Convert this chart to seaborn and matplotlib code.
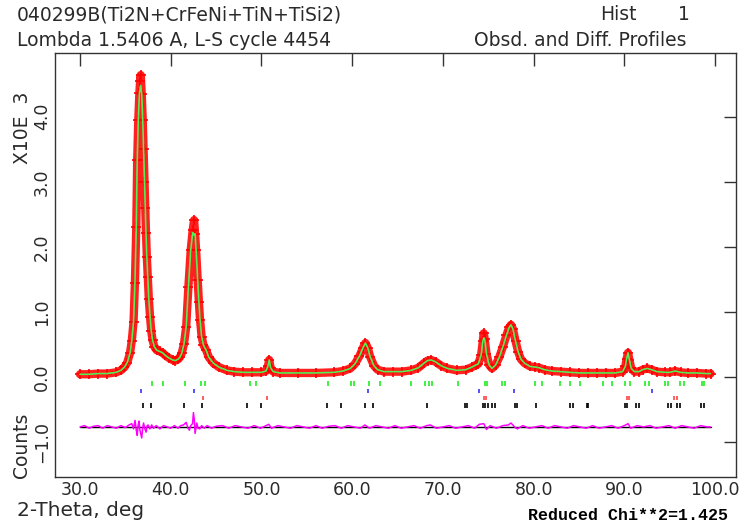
import numpy as np
import pandas as pd
import matplotlib
matplotlib.use('Agg')
import matplotlib.pyplot as plt
import seaborn as sns

# GSAS style powder pattern: observed (+), calculated (line), difference and reflection ticks
# intensities in units of 10^3 counts

obs_tth = [30.0, 31.0, 32.0, 33.0, 34.0, 34.5, 34.9, 35.2, 35.5, 35.7, 35.9, 36.05, 36.2, 36.3,
           36.42, 36.54, 36.62, 36.69, 36.8, 36.91, 37.0, 37.09, 37.18, 37.27, 37.36, 37.46,
           37.58, 37.72, 37.85, 38.0, 38.2, 38.45, 38.8, 39.1, 39.4, 39.8, 40.2, 40.5, 40.8,
           41.0, 41.2, 41.45, 41.7, 41.94, 42.2, 42.42, 42.57, 42.68, 42.79, 42.97, 43.1, 43.23,
           43.4, 43.6, 43.9, 44.2, 44.7, 45.3, 46.2, 47.0, 48.0, 49.0, 50.0, 50.5, 50.7, 50.85,
           51.0, 51.3, 52.0, 54.0, 56.0, 58.0, 59.0, 59.8, 60.3, 60.8, 61.2, 61.45, 61.7, 62.0,
           62.4, 62.8, 63.5, 64.5, 65.5, 66.5, 67.3, 67.9, 68.3, 68.7, 69.2, 69.8, 70.5, 71.5,
           72.5, 73.2, 73.6, 73.9, 74.2, 74.4, 74.5, 74.6, 74.8, 75.1, 75.4, 75.8, 76.2, 76.6,
           77.0, 77.3, 77.5, 77.7, 78.0, 78.3, 78.6, 79.0, 79.6, 80.2, 80.6, 81.2, 82.0, 83.0,
           84.0, 85.0, 86.0, 87.0, 88.0, 89.0, 89.8, 90.1, 90.25, 90.4, 90.55, 90.75, 91.1, 91.6,
           92.0, 92.5, 93.0, 93.6, 94.5, 95.0, 95.6, 96.2, 97.0, 98.0, 99.0, 99.5]
obs_cnt = [0.04, 0.04, 0.05, 0.05, 0.07, 0.10, 0.15, 0.22, 0.36, 0.55, 0.85, 1.45, 2.31, 3.33,
           3.95, 4.36, 4.55, 4.64, 4.35, 3.95, 3.50, 3.00, 2.60, 2.21, 1.85, 1.54,
           1.20, 0.92, 0.70, 0.56, 0.46, 0.41, 0.39, 0.37, 0.33, 0.29, 0.26, 0.25, 0.27,
           0.30, 0.36, 0.50, 0.77, 1.38, 1.95, 2.26, 2.41, 2.20, 1.95, 1.49, 1.15, 0.87,
           0.62, 0.49, 0.41, 0.30, 0.21, 0.15, 0.10, 0.08, 0.07, 0.07, 0.07, 0.09, 0.16, 0.26,
           0.14, 0.08, 0.06, 0.06, 0.06, 0.07, 0.09, 0.13, 0.20, 0.32, 0.45, 0.52, 0.45, 0.30,
           0.17, 0.11, 0.08, 0.08, 0.08, 0.10, 0.14, 0.21, 0.25, 0.26, 0.23, 0.17, 0.13, 0.10,
           0.11, 0.15, 0.18, 0.20, 0.33, 0.55, 0.67, 0.58, 0.35, 0.18, 0.13, 0.18, 0.30, 0.46,
           0.64, 0.76, 0.80, 0.74, 0.55, 0.38, 0.27, 0.21, 0.16, 0.15, 0.14, 0.11, 0.09, 0.08,
           0.07, 0.06, 0.06, 0.06, 0.06, 0.06, 0.08, 0.16, 0.28, 0.37, 0.26, 0.13, 0.08, 0.08,
           0.11, 0.13, 0.11, 0.08, 0.07, 0.07, 0.09, 0.07, 0.06, 0.06, 0.05, 0.05]
# calculated profile differs from observed only at the strongest peak tops
calc_tops = {36.62: 4.42, 36.69: 4.48, 42.42: 2.22, 42.57: 2.18, 74.5: 0.60}

diff_tth = [30.0, 30.5, 31.0, 31.5, 32.0, 32.5, 33.0, 33.5, 34.0, 34.5, 35.0, 35.4, 35.7, 35.9,
            36.06, 36.2, 36.3, 36.4, 36.5, 36.6, 36.8, 36.9, 37.0, 37.15, 37.28, 37.4, 37.5,
            37.7, 37.9, 38.1, 38.4, 38.8, 39.2, 39.6, 40.0, 40.4, 40.8, 41.1, 41.4, 41.7, 41.9,
            42.05, 42.2, 42.4, 42.5, 42.6, 42.68, 42.8, 42.87, 43.0, 43.2, 43.4, 43.7, 44.0,
            44.5, 45.0, 45.7, 46.4, 47.1, 47.8, 48.5, 49.2, 49.9, 50.5, 50.8, 51.1, 51.8, 52.5,
            53.2, 53.9, 54.6, 55.3, 56.0, 56.7, 57.4, 58.1, 58.8, 59.5, 60.2, 60.9, 61.4, 61.9,
            62.6, 63.3, 64.0, 64.7, 65.4, 66.1, 66.8, 67.5, 68.2, 68.6, 69.3, 70.0, 70.7, 71.4,
            72.1, 72.8, 73.5, 74.0, 74.5, 74.8, 75.2, 75.9, 76.6, 77.2, 77.5, 77.9, 78.2, 78.8,
            79.5, 80.2, 80.9, 81.6, 82.3, 83.0, 83.7, 84.4, 85.1, 85.8, 86.5, 87.2, 87.9, 88.6,
            89.3, 90.0, 90.4, 90.7, 91.4, 92.1, 92.8, 93.5, 94.2, 94.9, 95.6, 96.3, 97.0, 97.7,
            98.4, 99.1, 99.5]
diff_cnt = [0.00, 0.02, -0.02, 0.01, 0.02, -0.02, 0.02, 0.00, -0.02, 0.02, -0.01, 0.03, 0.05, -0.03,
            0.10, -0.05, -0.13, 0.02, 0.09, -0.05, -0.17, -0.02, 0.06, -0.03, -0.08, 0.02, 0.03,
            -0.03, 0.03, -0.02, 0.02, -0.03, 0.02, 0.00, -0.02, 0.02, -0.02, 0.02, 0.03, 0.07, -0.02,
            -0.05, 0.02, 0.05, 0.22, 0.10, -0.10, 0.00, 0.06, -0.02, -0.03, 0.02, -0.02, 0.02,
            -0.02, 0.01, 0.02, -0.02, 0.02, 0.00, -0.02, 0.02, -0.02, 0.02, 0.04, -0.02, 0.02, 0.00,
            -0.02, 0.02, 0.00, -0.02, 0.02, -0.02, 0.01, 0.02, -0.02, 0.02, 0.00, -0.02, 0.03, -0.02,
            0.02, 0.00, -0.02, 0.02, -0.02, 0.00, 0.02, -0.02, 0.02, 0.03, -0.02, 0.00, 0.02, -0.02,
            0.00, 0.02, -0.02, 0.04, 0.05, -0.04, 0.02, -0.02, 0.02, 0.03, 0.06, 0.00, -0.03, 0.02,
            -0.02, 0.00, 0.02, -0.02, 0.02, 0.00, -0.02, 0.02, 0.00, -0.02, 0.02, -0.02, 0.00, 0.02,
            -0.02, 0.02, 0.05, -0.02, 0.02, 0.00, 0.02, -0.02, 0.00, 0.02, -0.02, 0.02, 0.00, -0.02,
            0.02, 0.00, 0.00]
diff_offset = -0.77

# reflection positions (2-theta) for the four phases
ref_green = [37.97, 39.18, 41.58, 43.31, 43.78, 48.74, 49.40, 57.38, 59.88, 60.21, 61.86, 63.08,
             66.44, 68.04, 68.48, 68.78, 71.71, 74.65, 74.84, 76.49, 76.86, 80.17, 80.90, 82.91,
             83.95, 85.13, 87.69, 88.62, 90.09, 90.64, 92.29, 92.66, 94.49, 94.86, 96.15, 96.52,
             98.54, 98.72]
ref_blue = [36.73, 42.60, 61.72, 73.92, 77.78, 93.03]
ref_red = [43.60, 50.65, 74.47, 74.77, 90.27, 90.56, 95.42, 95.79]
ref_black = [36.91, 37.79, 41.47, 43.42, 48.45, 49.96, 57.20, 58.74, 61.42, 62.34, 68.20, 72.45,
             72.70, 74.39, 74.65, 75.02, 75.39, 75.76, 77.96, 78.21, 80.28, 84.02, 84.32, 85.86,
             86.04, 90.09, 90.34, 91.30, 91.60, 94.86, 95.12, 95.79, 96.08, 98.47, 98.72]

x_ticks = [30, 40, 50, 60, 70, 80, 90, 100]
y_ticks = [-1, 0, 1, 2, 3, 4]

obs = pd.DataFrame({'tth': obs_tth, 'obs': obs_cnt})
obs['calc'] = [calc_tops.get(t, c) for t, c in zip(obs_tth, obs_cnt)]
diff = pd.DataFrame({'tth': diff_tth, 'diff': np.array(diff_cnt) + diff_offset})

sns.set_style('white')
plt.rcParams['font.family'] = ['DejaVu Sans']
txt = '#2a2a2a'

fig = plt.figure(figsize=(7.45, 5.25), dpi=100)
ax = fig.add_axes([55/745, 1-477/525, (736-55)/745, (477-53)/525])

# observed: thick band plus crosses
sns.lineplot(data=obs, x='tth', y='obs', color='#ff2020', lw=6, sort=False, estimator=None, ax=ax)
sns.scatterplot(data=obs, x='tth', y='obs', marker='+', color='red', s=55, linewidth=1.2, ax=ax, zorder=3)
sns.lineplot(data=obs, x='tth', y='calc', color='#55ee55', lw=1.2, sort=False, estimator=None, ax=ax, zorder=4)

# difference curve and its zero line
ax.plot([30, 99.5], [diff_offset, diff_offset], color='black', lw=1, zorder=2)
sns.lineplot(data=diff, x='tth', y='diff', color='#ff00ff', lw=1.1, sort=False, estimator=None, ax=ax, zorder=3)

# reflection markers
ax.vlines(ref_green, -0.06, -0.14, color='#22ee22', lw=1.2)
ax.vlines(ref_blue, -0.18, -0.25, color='#3333ff', lw=1.2)
ax.vlines(ref_red, -0.29, -0.36, color='#ff4444', lw=1.2)
ax.vlines(ref_black, -0.40, -0.48, color='black', lw=1.2)

ax.set_xlim(27.24, 102.3)
ax.set_ylim(-1.54, 4.98)
ax.set_xticks(x_ticks)
ax.set_xticklabels([f'{v:.1f}' for v in x_ticks], fontsize=12.5, color=txt)
ax.set_yticks(y_ticks)
ax.set_yticklabels([f'{v:.1f}'.replace('-', '\u2212') for v in y_ticks], fontsize=12.5, color=txt,
                   rotation=90, va='center')
ax.tick_params(direction='in', length=9, width=1, color='#333333', top=True, right=True, pad=3)
ax.set_xlabel('')
ax.set_ylabel('')
for s in ax.spines.values():
    s.set_color('#333333')
    s.set_linewidth(1)

fig.text(17/745, 1-15/525, '040299B(Ti2N+CrFeNi+TiN+TiSi2)', fontsize=13.5, color=txt, va='center')
fig.text(17/745, 1-41/525, 'Lombda 1.5406 A, L-S cycle 4454', fontsize=13.5, color=txt, va='center')
fig.text(600/745, 1-15/525, 'Hist', fontsize=13.5, color=txt, va='center')
fig.text(690/745, 1-15/525, '1', fontsize=13.5, color=txt, va='center', ha='right')
fig.text(686/745, 1-41/525, 'Obsd. and Diff. Profiles', fontsize=13.5, color=txt, va='center', ha='right')
fig.text(17/745, 1-511/525, '2-Theta, deg', fontsize=14.5, color=txt, va='center')
fig.text(728/745, 1-515/525, 'Reduced Chi**2=1.425', fontsize=12, color='black', va='center', ha='right',
         family='Liberation Mono', weight='bold')
fig.text(22/745, 1-128/525, 'X10E  3', fontsize=13.5, color=txt, rotation=90, va='center', ha='center')
fig.text(22/745, 1-445/525, 'Counts', fontsize=13.5, color=txt, rotation=90, va='center', ha='center')

fig.savefig('out.png', dpi=100)
